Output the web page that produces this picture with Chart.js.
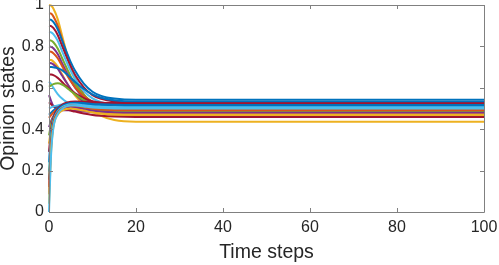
<!doctype html>
<html lang="en">
<head>
    <meta charset="utf-8">
    <title>Opinion states</title>
    <script src="https://cdn.jsdelivr.net/npm/chart.js"></script>
    <style>
        html, body { margin: 0; padding: 0; background: #fff; }
        #wrap { width: 499px; height: 265px; }
    </style>
</head>
<body>
    <div id="wrap"><canvas id="chartEl"></canvas></div>
    <script>
        // time points where each trajectory is sampled
        const timeSteps = [0, 0.5, 1, 2, 3, 4, 5, 6, 8, 10, 12, 15, 20, 100];
        const xTicks = [0, 20, 40, 60, 80, 100];
        const yTicks = [0, 0.2, 0.4, 0.6, 0.8, 1];

        // opinion trajectories
        const a01 = [1.000, 0.997, 0.983, 0.932, 0.853, 0.774, 0.701, 0.639, 0.549, 0.492, 0.464, 0.444, 0.436, 0.436];
        const a02 = [0.960, 0.958, 0.945, 0.901, 0.833, 0.764, 0.700, 0.646, 0.568, 0.519, 0.495, 0.477, 0.470, 0.470];
        const a03 = [0.930, 0.928, 0.918, 0.883, 0.829, 0.775, 0.724, 0.682, 0.620, 0.581, 0.561, 0.548, 0.542, 0.542];
        const a04 = [0.900, 0.898, 0.889, 0.855, 0.803, 0.751, 0.703, 0.662, 0.602, 0.565, 0.547, 0.534, 0.528, 0.528];
        const a05 = [0.870, 0.868, 0.859, 0.827, 0.777, 0.727, 0.681, 0.642, 0.584, 0.549, 0.531, 0.518, 0.513, 0.513];
        const a06 = [0.830, 0.828, 0.820, 0.790, 0.744, 0.698, 0.655, 0.618, 0.565, 0.532, 0.516, 0.504, 0.499, 0.499];
        const a07 = [0.800, 0.798, 0.791, 0.763, 0.719, 0.676, 0.635, 0.601, 0.551, 0.520, 0.505, 0.494, 0.489, 0.489];
        const a08 = [0.775, 0.774, 0.767, 0.743, 0.705, 0.667, 0.632, 0.602, 0.559, 0.532, 0.519, 0.509, 0.505, 0.505];
        const a09 = [0.735, 0.734, 0.727, 0.703, 0.665, 0.627, 0.592, 0.562, 0.519, 0.492, 0.479, 0.469, 0.465, 0.465];
        const a10 = [0.720, 0.719, 0.713, 0.692, 0.659, 0.626, 0.595, 0.570, 0.532, 0.509, 0.497, 0.489, 0.485, 0.485];
        const a11 = [0.700, 0.700, 0.699, 0.695, 0.685, 0.668, 0.648, 0.628, 0.594, 0.568, 0.552, 0.540, 0.534, 0.533];
        const a12 = [0.665, 0.664, 0.661, 0.648, 0.628, 0.607, 0.589, 0.573, 0.550, 0.535, 0.528, 0.523, 0.521, 0.521];
        const a13 = [0.630, 0.618, 0.600, 0.570, 0.548, 0.532, 0.521, 0.513, 0.504, 0.499, 0.497, 0.496, 0.495, 0.495];
        const a14 = [0.605, 0.612, 0.618, 0.622, 0.616, 0.602, 0.585, 0.568, 0.540, 0.519, 0.507, 0.499, 0.495, 0.495];
        const a15 = [0.565, 0.535, 0.512, 0.495, 0.492, 0.492, 0.491, 0.489, 0.485, 0.482, 0.480, 0.479, 0.478, 0.478];
        const a16 = [0.530, 0.520, 0.512, 0.505, 0.500, 0.495, 0.490, 0.485, 0.476, 0.469, 0.465, 0.461, 0.459, 0.459];
        const a17 = [0.500, 0.505, 0.510, 0.515, 0.519, 0.521, 0.521, 0.519, 0.514, 0.509, 0.506, 0.503, 0.502, 0.502];
        const a18 = [0.470, 0.480, 0.490, 0.505, 0.516, 0.523, 0.526, 0.526, 0.522, 0.517, 0.514, 0.511, 0.510, 0.510];
        const a19 = [0.455, 0.468, 0.480, 0.498, 0.510, 0.516, 0.518, 0.517, 0.511, 0.505, 0.501, 0.498, 0.497, 0.497];
        const a20 = [0.410, 0.440, 0.462, 0.490, 0.505, 0.512, 0.514, 0.512, 0.504, 0.495, 0.489, 0.484, 0.482, 0.482];
        const a21 = [0.370, 0.425, 0.458, 0.492, 0.508, 0.516, 0.518, 0.516, 0.509, 0.501, 0.496, 0.492, 0.490, 0.490];
        const a22 = [0.330, 0.410, 0.450, 0.485, 0.500, 0.507, 0.508, 0.505, 0.497, 0.488, 0.482, 0.477, 0.475, 0.475];
        const a23 = [0.290, 0.400, 0.455, 0.498, 0.518, 0.528, 0.533, 0.534, 0.533, 0.530, 0.528, 0.526, 0.525, 0.525];
        const a24 = [0.240, 0.385, 0.445, 0.492, 0.512, 0.522, 0.527, 0.528, 0.526, 0.522, 0.520, 0.518, 0.517, 0.517];
        const a25 = [0.195, 0.365, 0.437, 0.486, 0.506, 0.516, 0.520, 0.520, 0.516, 0.511, 0.509, 0.507, 0.506, 0.506];
        const a26 = [0.155, 0.350, 0.430, 0.480, 0.500, 0.509, 0.512, 0.511, 0.504, 0.496, 0.491, 0.488, 0.487, 0.487];
        const a27 = [0.120, 0.335, 0.425, 0.478, 0.497, 0.505, 0.508, 0.506, 0.498, 0.490, 0.485, 0.481, 0.480, 0.480];
        const a28 = [0.085, 0.320, 0.420, 0.479, 0.500, 0.510, 0.514, 0.513, 0.506, 0.499, 0.495, 0.493, 0.492, 0.492];
        const a29 = [0.040, 0.300, 0.410, 0.470, 0.490, 0.498, 0.500, 0.498, 0.490, 0.481, 0.475, 0.471, 0.470, 0.470];
        const a30 = [0.000, 0.285, 0.405, 0.473, 0.498, 0.510, 0.515, 0.515, 0.510, 0.505, 0.502, 0.500, 0.500, 0.500];

        const trajectories = [a01, a02, a03, a04, a05, a06, a07, a08, a09, a10,
            a11, a12, a13, a14, a15, a16, a17, a18, a19, a20,
            a21, a22, a23, a24, a25, a26, a27, a28, a29, a30];

        // matlab default colour order
        const B = '#0072BD', O = '#D95319', Y = '#EDB120', P = '#7E2F8E',
            G = '#77AC30', L = '#4DBEEE', R = '#A2142F';
        const lineColors = [Y, O, B, R, L, G, P, O, Y, P,
            B, R, L, G, P, R, L, B, O, P,
            G, Y, R, B, L, G, P, O, Y, L];

        const datasets = trajectories.map((vals, i) => {
            return {
                label: `agent ${i + 1}`,
                data: vals.map((v, k) => ({ x: timeSteps[k], y: v })),
                borderColor: lineColors[i],
                backgroundColor: lineColors[i],
                borderWidth: 2,
                pointRadius: 0,
                cubicInterpolationMode: 'monotone',
                clip: false,
            };
        }).reverse();

        // matlab style box with inward ticks
        const boxPlugin = {
            id: 'box',
            afterDatasetsDraw(chart) {
                const { ctx, chartArea: { left, right, top, bottom }, scales: { x, y } } = chart;
                ctx.save();
                ctx.strokeStyle = '#808080';
                ctx.lineWidth = 1;
                ctx.beginPath();
                ctx.rect(Math.round(left) + 0.5, Math.round(top) + 0.5,
                    Math.round(right - left), Math.round(bottom - top));
                xTicks.forEach((v) => {
                    const px = Math.round(x.getPixelForValue(v)) + 0.5;
                    ctx.moveTo(px, bottom);
                    ctx.lineTo(px, bottom - 4);
                    ctx.moveTo(px, top);
                    ctx.lineTo(px, top + 4);
                });
                yTicks.forEach((v) => {
                    const py = Math.round(y.getPixelForValue(v)) + 0.5;
                    ctx.moveTo(left, py);
                    ctx.lineTo(left + 4, py);
                    ctx.moveTo(right, py);
                    ctx.lineTo(right - 4, py);
                });
                ctx.stroke();
                ctx.restore();
            }
        };

        const font = 'Liberation Sans, Arial, Helvetica, sans-serif';

        new Chart(document.getElementById('chartEl'), {
            type: 'line',
            data: { datasets },
            options: {
                responsive: true,
                maintainAspectRatio: false,
                animation: false,
                layout: { padding: { top: 5, right: 15, left: 0, bottom: 0 } },
                plugins: {
                    legend: { display: false },
                    tooltip: { enabled: false },
                },
                scales: {
                    x: {
                        type: 'linear',
                        min: 0,
                        max: 100,
                        grid: { display: false, drawTicks: false },
                        border: { display: false },
                        afterBuildTicks: (s) => { s.ticks = xTicks.map((v) => ({ value: v })); },
                        afterFit: (s) => {
                            s.height = 53;
                            s.paddingLeft = 0;
                            s.paddingRight = 0;
                        },
                        ticks: {
                            color: '#262626',
                            padding: 6,
                            maxRotation: 0,
                            font: { family: font, size: 16 },
                        },
                        title: {
                            display: true,
                            text: 'Time steps',
                            color: '#262626',
                            padding: { top: 0, bottom: 1 },
                            font: { family: font, size: 19.5 },
                        },
                    },
                    y: {
                        min: 0,
                        max: 1,
                        grid: { display: false, drawTicks: false },
                        border: { display: false },
                        afterBuildTicks: (s) => { s.ticks = yTicks.map((v) => ({ value: v })); },
                        afterFit: (s) => {
                            s.width = 49;
                            s.paddingTop = 0;
                            s.paddingBottom = 0;
                        },
                        ticks: {
                            color: '#262626',
                            padding: 5,
                            font: { family: font, size: 16 },
                            callback: (v) => String(v),
                        },
                        title: {
                            display: true,
                            text: 'Opinion states',
                            color: '#262626',
                            padding: { top: -3, bottom: 0 },
                            font: { family: font, size: 19.5 },
                        },
                    },
                },
            },
            plugins: [boxPlugin],
        });
    </script>
</body>
</html>
